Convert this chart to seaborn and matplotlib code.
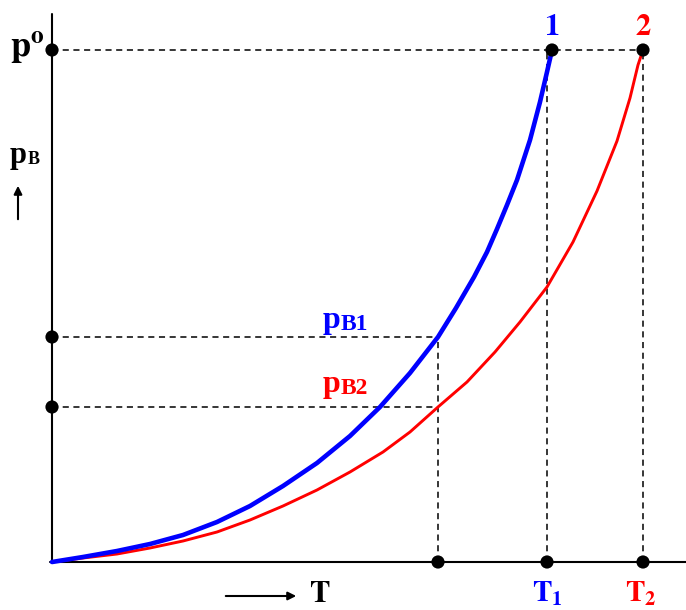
import matplotlib
matplotlib.use("Agg")
import matplotlib.pyplot as plt
import seaborn as sns
import pandas as pd

# ---- data (arbitrary units) ----
blue_T = [0, 0.31, 0.65, 0.98, 1.31, 1.65, 1.98, 2.31, 2.65, 2.98, 3.28, 3.58,
          3.86, 4.04, 4.22, 4.35, 4.45, 4.55, 4.65, 4.78, 4.88, 4.95, 5.00]
blue_p = [0, 0.05, 0.11, 0.18, 0.27, 0.40, 0.56, 0.76, 0.99, 1.26, 1.55, 1.89,
          2.25, 2.54, 2.85, 3.10, 3.33, 3.57, 3.82, 4.22, 4.60, 4.90, 5.12]
red_T = [0, 0.31, 0.65, 0.98, 1.31, 1.65, 1.98, 2.31, 2.65, 2.98, 3.31, 3.58,
         3.86, 4.15, 4.43, 4.68, 4.95, 5.21, 5.45, 5.65, 5.78, 5.86, 5.91]
red_p = [0, 0.04, 0.08, 0.14, 0.21, 0.30, 0.42, 0.56, 0.72, 0.90, 1.10, 1.30,
         1.55, 1.80, 2.10, 2.40, 2.75, 3.20, 3.71, 4.21, 4.64, 4.97, 5.12]

p0 = 5.12      # p°
pB1 = 2.25
pB2 = 1.55
Tm = 3.86      # temperature where pB1 / pB2 are read
T1 = 4.95
T2 = 5.91
T_axis_end = 6.34
p_axis_end = 5.48

sns.set_style("white")
plt.rcParams["font.family"] = ["Liberation Serif", "DejaVu Serif"]
plt.rcParams["mathtext.fontset"] = "stix"

fig = plt.figure(figsize=(6.86, 6.10), dpi=100)
ax = fig.add_axes([0, 0, 1, 1])

# axes lines
ax.plot([0, 0], [0, p_axis_end], color="black", lw=1.5, zorder=2)
ax.plot([-0.02, T_axis_end], [0, 0], color="black", lw=1.5, zorder=2)

# dashed guide lines
dkw = dict(color="black", lw=1.1, ls=(0, (4, 3)), zorder=1)
ax.plot([0, T2], [p0, p0], **dkw)
ax.plot([0, Tm], [pB1, pB1], **dkw)
ax.plot([0, Tm], [pB2, pB2], **dkw)
ax.plot([Tm, Tm], [0, pB1], **dkw)
ax.plot([T1, T1], [0, p0], **dkw)
ax.plot([T2, T2], [0, p0], **dkw)

# curves
df_b = pd.DataFrame({"T": blue_T, "p": blue_p})
df_r = pd.DataFrame({"T": red_T, "p": red_p})
sns.lineplot(data=df_r, x="T", y="p", color="#ff0000", lw=2.1, ax=ax, sort=False,
             zorder=3, solid_joinstyle="round")
sns.lineplot(data=df_b, x="T", y="p", color="#0000ff", lw=3.3, ax=ax, sort=False,
             zorder=4, solid_joinstyle="round")

# dots
dots = pd.DataFrame({
    "T": [0, 0, 0, Tm, T1, T2, blue_T[-1], T2],
    "p": [p0, pB1, pB2, 0, 0, 0, p0, p0],
})
sns.scatterplot(data=dots, x="T", y="p", color="black", s=90, edgecolor="none", ax=ax, zorder=5)
ax.set_xlim(-0.52, 6.34)
ax.set_ylim(-0.48, 5.62)
ax.axis("off")


def sub_label(x, y, main, sub, color, main_size, sub_size, dx, dy):
    ax.text(x, y, main, ha="left", va="baseline", fontsize=main_size,
            fontweight="bold", color=color)
    ax.annotate(sub, xy=(x, y), xytext=(dx, dy), textcoords="offset points",
                ha="left", va="baseline", fontsize=sub_size, fontweight="bold", color=color)


# texts
ax.text(-0.25, p0 + 0.02, r"$\mathbf{p^{o}}$", fontsize=26, ha="center", va="center", color="black")
sub_label(-0.42, 3.99, "p", "B", "black", 22, 13, 12.4, -0.5)
sub_label(2.71, pB1 + 0.09, "p", "B1", "#0000ff", 23, 17, 13.0, -1.2)
sub_label(2.71, pB2 + 0.15, "p", "B2", "#ff0000", 23, 17, 13.0, -1.2)
ax.text(blue_T[-1], p0 + 0.08, r"$\mathbf{1}$", fontsize=22, ha="center", va="bottom", color="#0000ff")
ax.text(T2, p0 + 0.08, r"$\mathbf{2}$", fontsize=22, ha="center", va="bottom", color="#ff0000")
ax.text(2.68, -0.32, r"$\mathbf{T}$", fontsize=22, ha="center", va="center", color="black")
ax.text(T1, -0.32, r"$\mathbf{T_{1}}$", fontsize=21, ha="center", va="center", color="#0000ff")
ax.text(T2 - 0.02, -0.32, r"$\mathbf{T_{2}}$", fontsize=21, ha="center", va="center", color="#ff0000")

# arrows
ax.annotate("", xy=(-0.34, 3.79), xytext=(-0.34, 3.40),
            arrowprops=dict(arrowstyle="-|>", color="black", lw=1.5, mutation_scale=12))
ax.annotate("", xy=(2.47, -0.34), xytext=(1.71, -0.34),
            arrowprops=dict(arrowstyle="-|>", color="black", lw=1.5, mutation_scale=12))

fig.savefig("out.png", dpi=100)
